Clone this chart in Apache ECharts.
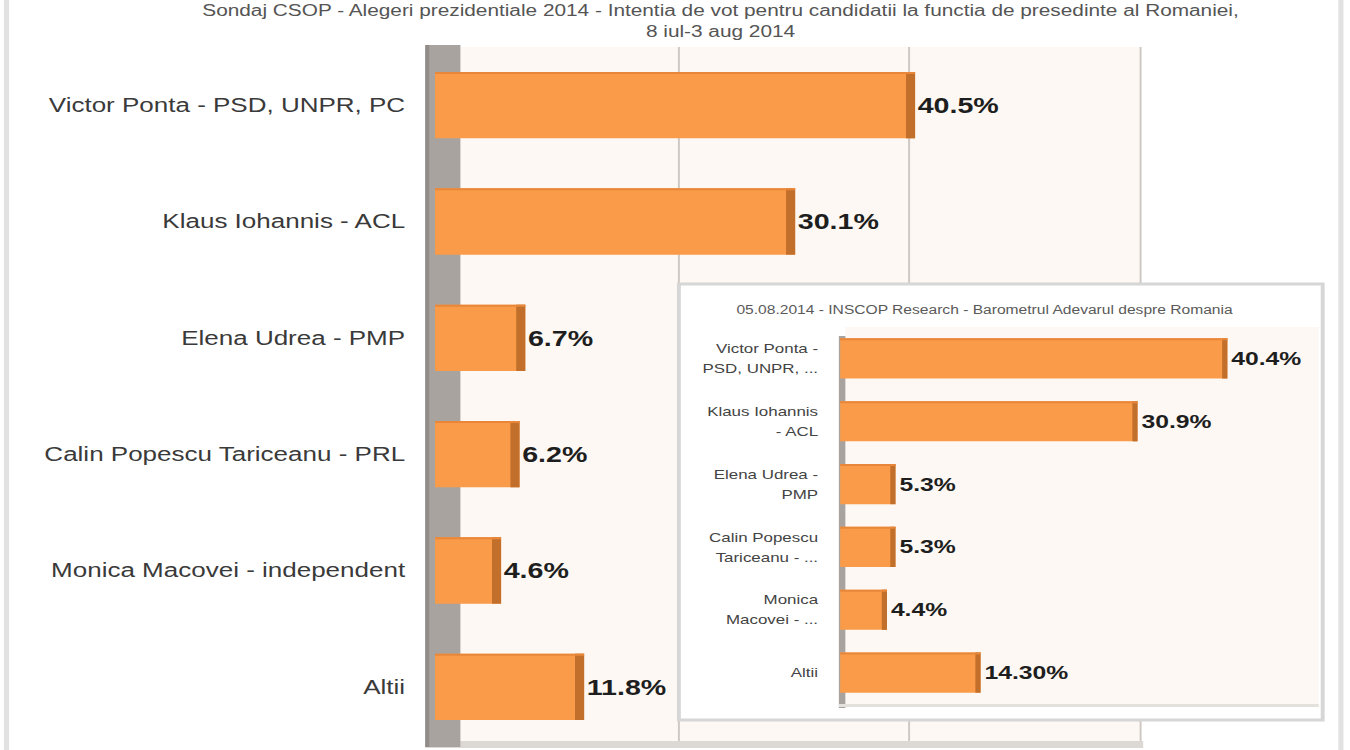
<!DOCTYPE html>
<html>
<head>
<meta charset="utf-8">
<script src="https://cdn.jsdelivr.net/npm/echarts@6/dist/echarts.min.js"></script>
<style>
  html, body { margin: 0; padding: 0; background: #ffffff; overflow: hidden; }
  #main { width: 1038px; height: 750px; transform: scaleX(1.30058); transform-origin: 0 0; }
</style>
</head>
<body>
<div id="main"></div>
<script>
// ---- data ----
const titleLine1 = 'Sondaj CSOP - Alegeri prezidentiale 2014 - Intentia de vot pentru candidatii la functia de presedinte al Romaniei,';
const titleLine2 = '8 iul-3 aug 2014';
const categories = [
  'Victor Ponta - PSD, UNPR, PC',
  'Klaus Iohannis - ACL',
  'Elena Udrea - PMP',
  'Calin Popescu Tariceanu - PRL',
  'Monica Macovei - independent',
  'Altii'
];
const values = [40.5, 30.1, 6.7, 6.2, 4.6, 11.8];
const xTicks = [0, 20, 40, 60];

const insetTitle = '05.08.2014 - INSCOP Research - Barometrul Adevarul despre Romania';
const insetCategories = [
  'Victor Ponta -\nPSD, UNPR, ...',
  'Klaus Iohannis\n- ACL',
  'Elena Udrea -\nPMP',
  'Calin Popescu\nTariceanu - ...',
  'Monica\nMacovei - ...',
  'Altii'
];
const insetValues = [40.4, 30.9, 5.3, 5.3, 4.4, 14.3];
const insetLabels = ['40.4%', '30.9%', '5.3%', '5.3%', '4.4%', '14.30%'];

// ---- style ----
const ORANGE = '#F99B48';
const SIDE = '#C26F2B';

function makeRender(cfg, labelFn) {
  return function (params, api) {
    const v = api.value(0);
    const i = api.value(1);
    const p0 = api.coord([0, i]);
    const p1 = api.coord([v, i]);
    const band = api.size([0, 1])[1];
    const h = band * cfg.ratio;
    const x0 = p0[0] - cfg.startOff;
    const y = p1[1] - h / 2;
    return {
      type: 'group',
      children: [
        { type: 'rect', shape: { x: x0, y: y, width: p1[0] - x0, height: h }, style: { fill: ORANGE } },
        { type: 'rect', shape: { x: p1[0] - cfg.side, y: y, width: cfg.side, height: h }, style: { fill: SIDE } },
        { type: 'rect', shape: { x: x0, y: y, width: p1[0] - x0, height: 2 }, style: { fill: '#E8873A' } },
        {
          type: 'text',
          x: p1[0] + cfg.gap,
          y: p1[1],
          style: {
            text: labelFn(v, i),
            font: 'bold ' + cfg.font + 'px "Liberation Sans", Arial, sans-serif',
            fill: '#1e1e1e',
            align: 'left', verticalAlign: 'middle',
            textAlign: 'left', textVerticalAlign: 'middle'
          }
        }
      ]
    };
  };
}

const chart = echarts.init(document.getElementById('main'), null, { renderer: 'svg' });

const option = {
  backgroundColor: '#ffffff',
  animation: false,
  textStyle: { fontFamily: '"Liberation Sans", Arial, sans-serif' },
  title: [
    {
      text: titleLine1 + '\n' + titleLine2,
      left: 554, textAlign: 'center', top: 0, padding: 0,
      textStyle: { fontSize: 16, lineHeight: 21, color: '#555555', fontWeight: 'normal' }
    },
    {
      text: insetTitle,
      left: 757, textAlign: 'center', top: 304, padding: 0,
      textStyle: { fontSize: 12, color: '#5a5a5a', fontWeight: 'normal' }
    }
  ],
  graphic: [
    // page borders
    { type: 'rect', z: 1, shape: { x: 3, y: 0, width: 4, height: 750 }, style: { fill: '#e2e2e2' } },
    { type: 'rect', z: 1, shape: { x: 1029, y: 0, width: 4, height: 750 }, style: { fill: '#e2e2e2' } },
    // main floor
    { type: 'rect', z: 1, z2: 0, shape: { x: 327, y: 741, width: 552, height: 7 }, style: { fill: '#dcd8d4' } },
    // main wall
    { type: 'rect', z: 1, z2: 1, shape: { x: 327, y: 45, width: 27, height: 702 }, style: { fill: '#a8a39f' } },
    { type: 'rect', z: 1, z2: 2, shape: { x: 327, y: 45, width: 3, height: 702 }, style: { fill: '#918c88' } },
    // inset box
    { type: 'rect', z: 1, z2: 5, shape: { x: 522, y: 284, width: 495, height: 436 }, style: { fill: '#ffffff', stroke: '#d6d6d6', lineWidth: 3 } },
    { type: 'rect', z: 1, z2: 6, shape: { x: 650, y: 327, width: 364, height: 377 }, style: { fill: '#fdf8f3' } },
    { type: 'rect', z: 1, z2: 7, shape: { x: 645, y: 336, width: 5, height: 372 }, style: { fill: '#a8a39f' } },
    { type: 'rect', z: 1, z2: 7, shape: { x: 645, y: 704, width: 369, height: 3 }, style: { fill: '#e4e0dc' } }
  ],
  grid: [
    { left: 344.5, right: 161.5, top: 47, bottom: 5, show: true, backgroundColor: '#fdf8f3', borderWidth: 0 },
    { left: 650, right: 24.5, top: 327, bottom: 46 }
  ],
  xAxis: [
    {
      type: 'value', gridIndex: 0, min: xTicks[0], max: xTicks[xTicks.length - 1], interval: 20,
      axisLabel: { show: false }, axisLine: { show: false }, axisTick: { show: false },
      splitLine: { show: true, lineStyle: { color: '#cdc8c3', width: 1.5 } }
    },
    {
      type: 'value', gridIndex: 1, min: 0, max: 50,
      axisLabel: { show: false }, axisLine: { show: false }, axisTick: { show: false },
      splitLine: { show: false }
    }
  ],
  yAxis: [
    {
      type: 'category', gridIndex: 0, data: categories, inverse: true,
      axisLine: { show: false }, axisTick: { show: false },
      axisLabel: { margin: 33, fontSize: 20, color: '#3a3a3a' }
    },
    {
      type: 'category', gridIndex: 1, data: insetCategories, inverse: true, z: 5,
      axisLine: { show: false }, axisTick: { show: false },
      axisLabel: { margin: 21, fontSize: 13, lineHeight: 20, color: '#444444', align: 'right' }
    }
  ],
  series: [
    {
      type: 'custom', xAxisIndex: 0, yAxisIndex: 0, z: 3,
      encode: { x: 0, y: 1 },
      data: values.map((v, i) => [v, i]),
      renderItem: makeRender({ ratio: 0.57, startOff: 10, side: 7, gap: 2, font: 22 }, (v) => v.toFixed(1) + '%')
    },
    {
      type: 'custom', xAxisIndex: 1, yAxisIndex: 1, z: 6,
      encode: { x: 0, y: 1 },
      data: insetValues.map((v, i) => [v, i]),
      renderItem: makeRender({ ratio: 0.64, startOff: 4, side: 4, gap: 3, font: 19 }, (v, i) => insetLabels[i])
    }
  ]
};

chart.setOption(option);
</script>
</body>
</html>
